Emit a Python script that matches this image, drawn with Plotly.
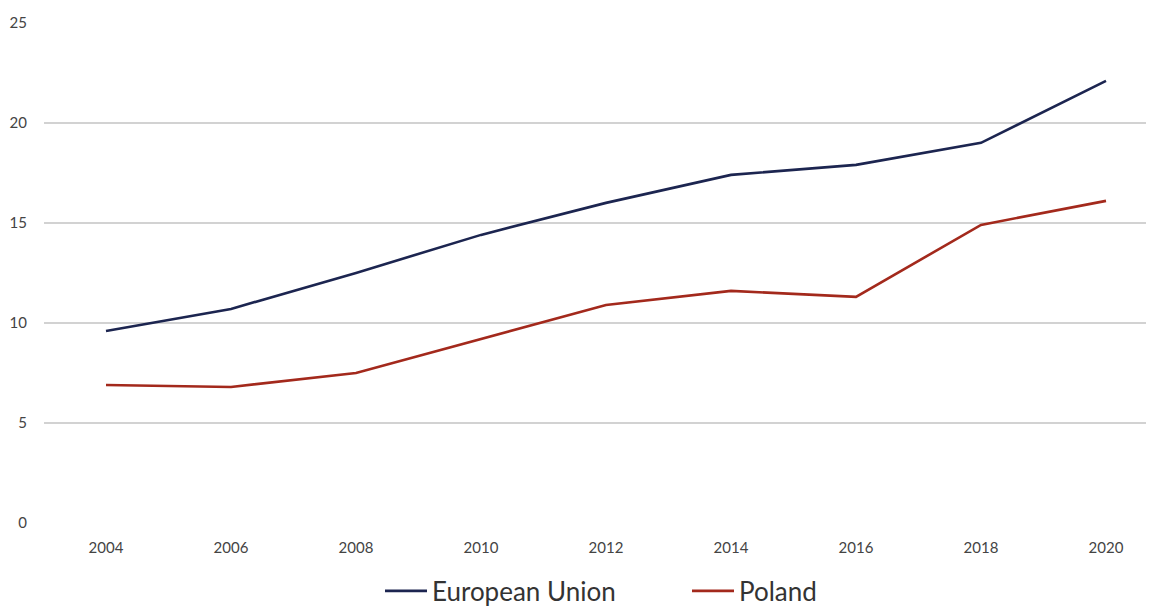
import plotly.graph_objects as go

years = [2004, 2006, 2008, 2010, 2012, 2014, 2016, 2018, 2020]
eu_values = [9.6, 10.7, 12.5, 14.4, 16.0, 17.4, 17.9, 19.0, 22.1]
poland_values = [6.9, 6.8, 7.5, 9.2, 10.9, 11.6, 11.3, 14.9, 16.1]
y_ticks = [0, 5, 10, 15, 20, 25]

fig = go.Figure()
fig.add_trace(go.Scatter(x=years, y=eu_values, mode="lines", name="European Union",
                         line=dict(color="#1c2550", width=2.6)))
fig.add_trace(go.Scatter(x=years, y=poland_values, mode="lines", name="Poland",
                         line=dict(color="#a3291c", width=2.6)))

fig.update_layout(
    width=1146, height=598,
    margin=dict(l=36, r=0, t=14, b=83, autoexpand=False),
    paper_bgcolor="white", plot_bgcolor="white",
    font=dict(family="Lato", color="#444"),
    showlegend=True,
    legend=dict(orientation="h", x=0.3027, xanchor="left", y=-0.1357, yanchor="middle",
                font=dict(size=26, color="#333"), tracegroupgap=0, itemwidth=42,
                entrywidth=250, entrywidthmode="pixels"),
    xaxis=dict(range=[2003.008, 2020.768], tickvals=years, ticktext=[str(y) for y in years],
               showgrid=False, zeroline=False, showline=False, ticks="",
               tickfont=dict(size=15, color="#444"), ticklabelstandoff=14),
    yaxis=dict(range=[0, 25.04], tickvals=y_ticks, showgrid=True, gridcolor="#d2d2d2",
               gridwidth=1.5, zeroline=False, showline=False, ticks="",
               tickfont=dict(size=15, color="#444"), ticklabelstandoff=16),
)

fig.write_html("out.html")
